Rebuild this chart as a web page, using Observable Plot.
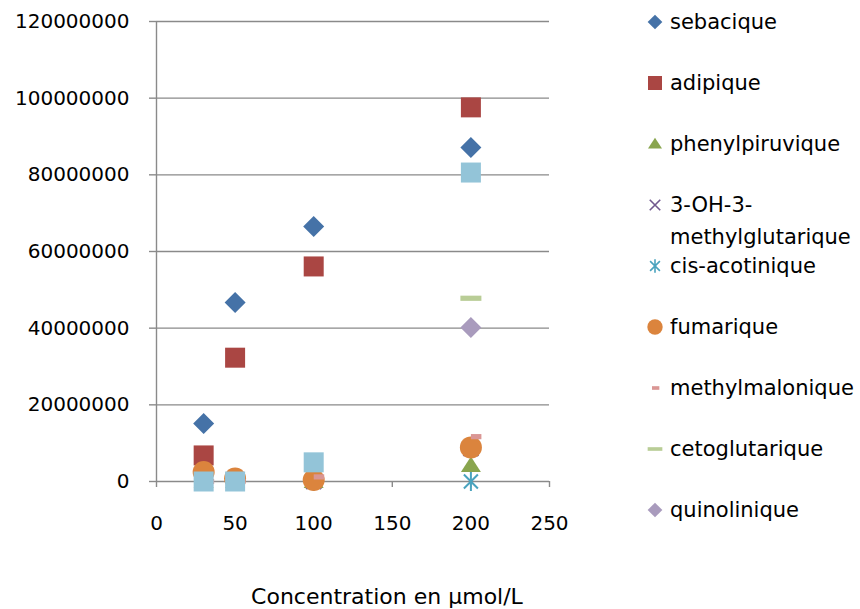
<!DOCTYPE html>
<html>
<head>
<meta charset="utf-8">
<script src="https://cdn.jsdelivr.net/npm/d3@7"></script>
<script src="https://cdn.jsdelivr.net/npm/@observablehq/plot@0.6"></script>
<style>
  body { margin: 0; background: #fff; }
  #wrap { position: relative; width: 860px; height: 609px; overflow: hidden; background: #fff; }
  #legend { position: absolute; left: 0; top: 0; font-family: "Comic Sans MS", "DejaVu Sans", sans-serif; font-size: 21px; color: #000; }
  .item { position: absolute; left: 647px; display: flex; align-items: flex-start; line-height: 32px; }
  .item svg { flex: none; margin-right: 7px; }
  .item span { display: block; width: 195px; }
  #xtitle { position: absolute; left: 387px; top: 584px; transform: translateX(-50%); white-space: nowrap;
            font-family: "Comic Sans MS", "DejaVu Sans", sans-serif; font-size: 22px; line-height: 26px; color: #000; }
</style>
</head>
<body>
<div id="wrap"><div id="legend"></div><div id="xtitle">Concentration en µmol/L</div></div>
<script>
// ---- data ----
const concentrations = [30, 50, 100, 200];
const seriesNames = ["sebacique", "adipique", "phenylpiruvique", "3-OH-3-methylglutarique",
  "cis-acotinique", "fumarique", "methylmalonique", "cetoglutarique", "quinolinique", "série 10"];
const sebacique       = [15100000, 46700000, 66500000, 87100000];
const adipique        = [6800000, 32300000, 56100000, 97600000];
const phenylpiruvique = [0, 0, 0, 4200000];
const hydroxyMethylglutarique = [0, 800000, 0, 8600000];
const cisAcotinique   = [0, 0, 0, 0];
const fumarique       = [2500000, 800000, 400000, 8900000];
const methylmalonique = [0, 0, 1200000, 11700000];
const cetoglutarique  = [null, null, null, 47800000];
const quinolinique    = [null, null, null, 40200000];
const serie10         = [0, 0, 5000000, 80600000];
const seriesValues = [sebacique, adipique, phenylpiruvique, hydroxyMethylglutarique,
  cisAcotinique, fumarique, methylmalonique, cetoglutarique, quinolinique, serie10];
const seriesColors = ["#4572A7", "#AA4643", "#89A54E", "#71588F", "#4AA3BE",
  "#DB843D", "#DA9694", "#B9CD96", "#A99BBD", "#93C4D8"];
const yTicks = [0, 20000000, 40000000, 60000000, 80000000, 100000000, 120000000];
const xTicks = [0, 50, 100, 150, 200, 250];

// ---- marker shapes (k = scale factor) ----
const shapes = {
  diamond: (c, k) => { const h = 10.5 * k; c.moveTo(0, -h); c.lineTo(h, 0); c.lineTo(0, h); c.lineTo(-h, 0); c.closePath(); },
  square: (c, k) => { const h = 10 * k; c.rect(-h, -h, 2 * h, 2 * h); },
  triangle: (c, k) => { c.moveTo(0, -9 * k); c.lineTo(10 * k, 6.5 * k); c.lineTo(-10 * k, 6.5 * k); c.closePath(); },
  cross: (c, k) => { const h = 7.5 * k; c.moveTo(-h, -h); c.lineTo(h, h); c.moveTo(-h, h); c.lineTo(h, -h); },
  star: (c, k) => { const h = 9.5 * k, d = 7 * k; c.moveTo(0, -h); c.lineTo(0, h); c.moveTo(-d, -d); c.lineTo(d, d); c.moveTo(-d, d); c.lineTo(d, -d); },
  circle: (c, k) => { const r = 11 * k; c.moveTo(r, 0); c.arc(0, 0, r, 0, 2 * Math.PI); },
  shortDash: (c, k) => { c.rect(0, -2.6 * k, 10.5 * k, 5.2 * k); },
  longDash: (c, k) => { c.rect(-10.5 * k, -2.6 * k, 21 * k, 5.2 * k); }
};
const seriesShapes = ["diamond", "square", "triangle", "cross", "star", "circle", "shortDash", "longDash", "diamond", "square"];
const strokeShapes = new Set(["cross", "star"]);

const rows = [];
seriesNames.forEach((name, s) => {
  concentrations.forEach((conc, i) => {
    const v = seriesValues[s][i];
    if (v != null) rows.push({series: name, conc, value: v});
  });
});

const dotMarks = seriesNames.map((name, s) => {
  const shape = seriesShapes[s];
  const symbol = {draw: (c) => shapes[shape](c, 1)};
  const isStroke = strokeShapes.has(shape);
  return Plot.dot(rows.filter(d => d.series === name), {
    x: "conc", y: "value", r: 10, symbol,
    fill: isStroke ? "none" : seriesColors[s],
    stroke: isStroke ? seriesColors[s] : "none",
    strokeWidth: isStroke ? 2 : 0
  });
});

const chart = Plot.plot({
  width: 860, height: 609,
  marginLeft: 156, marginRight: 311, marginTop: 21, marginBottom: 128,
  style: {fontFamily: "DejaVu Sans, sans-serif", fontSize: "20px", color: "black", background: "white", overflow: "visible"},
  x: {domain: [0, 250], label: null},
  y: {domain: [0, 120000000], label: null},
  marks: [
    Plot.gridY(yTicks, {stroke: "#8a8a8a", strokeOpacity: 1, strokeWidth: 1.4}),
    Plot.ruleX([0], {stroke: "#8a8a8a", strokeWidth: 1.4}),
    Plot.axisY({ticks: yTicks, tickSize: 7, tickPadding: 20, tickFormat: d => String(d), label: null,
      stroke: "#8a8a8a", strokeWidth: 1.4, fill: "black"}),
    Plot.axisX({ticks: xTicks, tickSize: 6, tickPadding: 28, tickFormat: d => String(d), label: null,
      stroke: "#8a8a8a", strokeWidth: 1.4, fill: "black"}),
    ...dotMarks
  ]
});
const wrap = document.getElementById("wrap");
wrap.insertBefore(chart, wrap.firstChild);
chart.style.position = "absolute"; chart.style.left = "0"; chart.style.top = "0";

// ---- legend (first nine series) ----
const legend = d3.select("#legend");
seriesNames.slice(0, 9).forEach((name, s) => {
  const cy = 22 + s * 61;
  const item = legend.append("div").attr("class", "item").style("top", (cy - 16) + "px");
  const svg = item.append("svg").attr("width", 16).attr("height", 32);
  const p = d3.path();
  const shape = seriesShapes[s];
  shapes[shape](p, 0.7);
  const isStroke = strokeShapes.has(shape);
  svg.append("path").attr("transform", shape === "shortDash" ? "translate(8,16) translate(-3,0)" : "translate(8,16)")
    .attr("d", p.toString())
    .attr("fill", isStroke ? "none" : seriesColors[s])
    .attr("stroke", isStroke ? seriesColors[s] : "none")
    .attr("stroke-width", isStroke ? 1.6 : 0);
  item.append("span").text(name);
});
</script>
</body>
</html>
